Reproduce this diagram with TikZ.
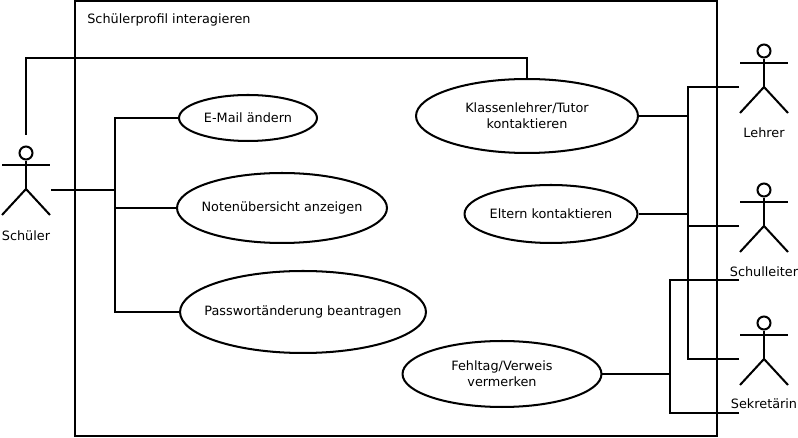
\documentclass[tikz,border=0pt]{standalone}
\usepackage{fontspec}
\setmainfont{DejaVu Sans}
\usepackage{xcolor}
\usetikzlibrary{shapes.geometric, positioning}
\tikzset{
    usecase/.style={ellipse, draw, line width=1.15pt, inner xsep=-0.8cm, inner ysep=-0.2cm, text centered, align=center},
    link/.style={line width=1.15pt},
    boldlink/.style={line width=1.5pt},
    label/.style={inner sep=0pt, align=center},
    head/.style={circle, draw, line width=1.15pt, inner sep=0pt, minimum size=0.26cm}
}
% stick figure: name, x, y of the head, text, y of the text
\newcommand{\actor}[5]{
    \node[head] (#1) at (#2,#3) {};
    \draw[link] (#2-24,#3+12) -- (#2+24,#3+12);
    \draw[link] (#1.south) -- (#2,#3+36);
    \draw[link] (#2-24,#3+62) -- (#2,#3+36) -- (#2+24,#3+62);
    \node[label] (#1 text) at (#2,#5) {#4};
}
\begin{document}
\begin{tikzpicture}[x=0.02cm, y=-0.02cm, font=\fontsize{7.3}{9}\selectfont]
    \useasboundingbox (0,0) rectangle (798,438);

    % System boundary
    \node[draw, line width=1.15pt, minimum width=12.84cm, minimum height=8.7cm, inner sep=0pt] (system) at (396,218.5) {};
    \node[label, anchor=west] (title) at (87,20) {Schülerprofil interagieren};

    % Use cases
    \node[usecase, minimum width=2.76cm, minimum height=0.92cm] (email) at (248,118) {E-Mail ändern};
    \node[usecase, minimum width=4.2cm, minimum height=1.4cm] (noten) at (282,208) {Notenübersicht anzeigen};
    \node[usecase, minimum width=4.92cm, minimum height=1.64cm] (passwort) at (303,312) {Passwortänderung beantragen};
    \node[usecase, minimum width=4.44cm, minimum height=1.48cm] (klassen) at (527,116) {Klassenlehrer/Tutor\\ kontaktieren};
    \node[usecase, minimum width=3.46cm, minimum height=1.16cm] (eltern) at (551,214) {Eltern kontaktieren};
    \node[usecase, minimum width=3.98cm, minimum height=1.32cm] (fehltag) at (502,374) {Fehltag/Verweis\\ vermerken};

    % Actors
    \actor{schueler}{26}{153}{Schüler}{236}
    \actor{lehrer}{764}{51}{Lehrer}{133}
    \actor{schulleiter}{764}{190}{Schulleiter}{272}
    \actor{sekretaerin}{764}{323}{Sekretärin}{404}

    % Free ends next to the actors
    \coordinate (schueler top) at (26,135);
    \coordinate (schueler side) at (51,190);
    \coordinate (lehrer side) at (739,87);
    \coordinate (schulleiter side) at (739,226);
    \coordinate (schulleiter upper) at (739,280);
    \coordinate (sekretaerin side) at (739,359);
    \coordinate (sekretaerin lower) at (739,413);
    \coordinate (left bus) at (115,190);
    \coordinate (right bus) at (688,214);
    \coordinate (lower bus) at (670,374);
    \coordinate (over) at (527,58);

    % Schueler links
    \draw[link] (schueler side) -- (left bus);
    \draw[link] (email.west) -| (left bus);
    \draw[link] (noten.west) -| (left bus);
    \draw[link] (passwort.west) -| (left bus);
    \draw[link] (schueler top) |- (over) -- (klassen.north);

    % Lehrer, Schulleiter, Sekretaerin links
    \draw[boldlink] (klassen.east) -| (right bus);
    \draw[boldlink] (eltern.east) -- (right bus);
    \draw[link] (lehrer side) -| (right bus);
    \draw[link] (schulleiter side) -| (right bus);
    \draw[link] (sekretaerin side) -| (right bus);
    \draw[link] (fehltag.east) -- (lower bus);
    \draw[link] (schulleiter upper) -| (lower bus);
    \draw[link] (sekretaerin lower) -| (lower bus);
\end{tikzpicture}
\end{document}
